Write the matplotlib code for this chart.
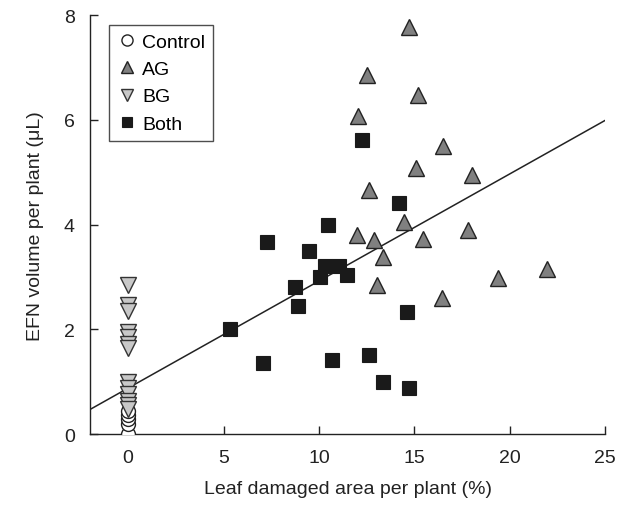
import numpy as np
import matplotlib
matplotlib.use('Agg')
import matplotlib.pyplot as plt

plt.rcParams['font.family'] = ['Liberation Sans', 'DejaVu Sans']

# Control: no damage
ctrl_x = [0, 0, 0, 0, 0]
ctrl_y = [0.0, 0.2, 0.28, 0.36, 0.45]

# BG (below-ground herbivory): no leaf damage
bg_x = [0] * 13
bg_y = [2.84, 2.46, 2.36, 1.95, 1.85, 1.72, 1.65, 1.0, 0.88, 0.76, 0.64, 0.55, 0.48]

# AG (above-ground)
ag_x = [14.75, 12.5, 15.2, 12.07, 16.5, 15.1, 18.03, 12.63, 14.44, 12.02, 12.88,
        15.44, 13.35, 17.8, 13.06, 16.48, 19.4, 21.95]
ag_y = [7.78, 6.86, 6.47, 6.08, 5.5, 5.09, 4.94, 4.66, 4.05, 3.8, 3.7,
        3.73, 3.39, 3.89, 2.85, 2.6, 2.98, 3.16]

# Both
both_x = [12.25, 14.18, 10.47, 7.27, 9.48, 10.33, 11.04, 10.07, 11.47, 8.74,
          8.88, 14.63, 5.34, 7.06, 10.69, 12.61, 13.35, 14.75]
both_y = [5.61, 4.42, 4.0, 3.67, 3.5, 3.21, 3.21, 3.0, 3.03, 2.81,
          2.44, 2.33, 2.01, 1.35, 1.42, 1.52, 1.0, 0.88]

# regression line
slope = 0.2044
intercept = 0.88

fs = 14
fig = plt.figure(figsize=(6.19, 5.06), dpi=100)
ax = fig.add_axes([0.1454, 0.14, 0.832, 0.828])

xl = np.array([-2, 25])
ax.plot(xl, intercept + slope * xl, color='#222222', lw=1.1, zorder=1)

ms = 9.5
ax.plot(ctrl_x, ctrl_y, 'o', ms=ms + 0.5, mfc='white', mec='#222222', mew=1.0,
        label='Control', zorder=3)
ax.plot(ag_x, ag_y, '^', ms=ms + 2, mfc='#808080', mec='#222222', mew=1.0,
        label='AG', zorder=3)
ax.plot(bg_x, bg_y, 'v', ms=ms + 2, mfc='#c8c8c8', mec='#333333', mew=1.0,
        label='BG', zorder=4)
ax.plot(both_x, both_y, 's', ms=ms, mfc='#1a1a1a', mec='#1a1a1a', mew=0.8,
        label='Both', zorder=3)

ax.set_xlim(-2, 25)
ax.set_ylim(0, 8)
ax.set_xticks([0, 5, 10, 15, 20, 25])
ax.set_yticks([0, 2, 4, 6, 8])
ax.spines['top'].set_visible(False)
ax.spines['right'].set_visible(False)
for s in ['left', 'bottom']:
    ax.spines[s].set_color('#222222')
    ax.spines[s].set_linewidth(1.0)
ax.tick_params(direction='in', length=6, width=1.0, labelsize=fs,
               colors='#222222', pad=11)

ax.set_xlabel('Leaf damaged area per plant (%)', fontsize=fs, color='#222222', labelpad=10)
ax.set_ylabel('EFN volume per plant (\u03bcL)', fontsize=fs, color='#222222', labelpad=14)

leg = ax.legend(loc='upper left', bbox_to_anchor=(0.03, 0.985), fontsize=fs,
                frameon=True, fancybox=False, handletextpad=0.3, borderpad=0.4,
                labelspacing=0.5, handlelength=1.0, markerscale=0.8,
                borderaxespad=0.2)
leg.get_frame().set_edgecolor('#222222')
leg.get_frame().set_linewidth(1.0)

plt.savefig('out.png', dpi=100)
